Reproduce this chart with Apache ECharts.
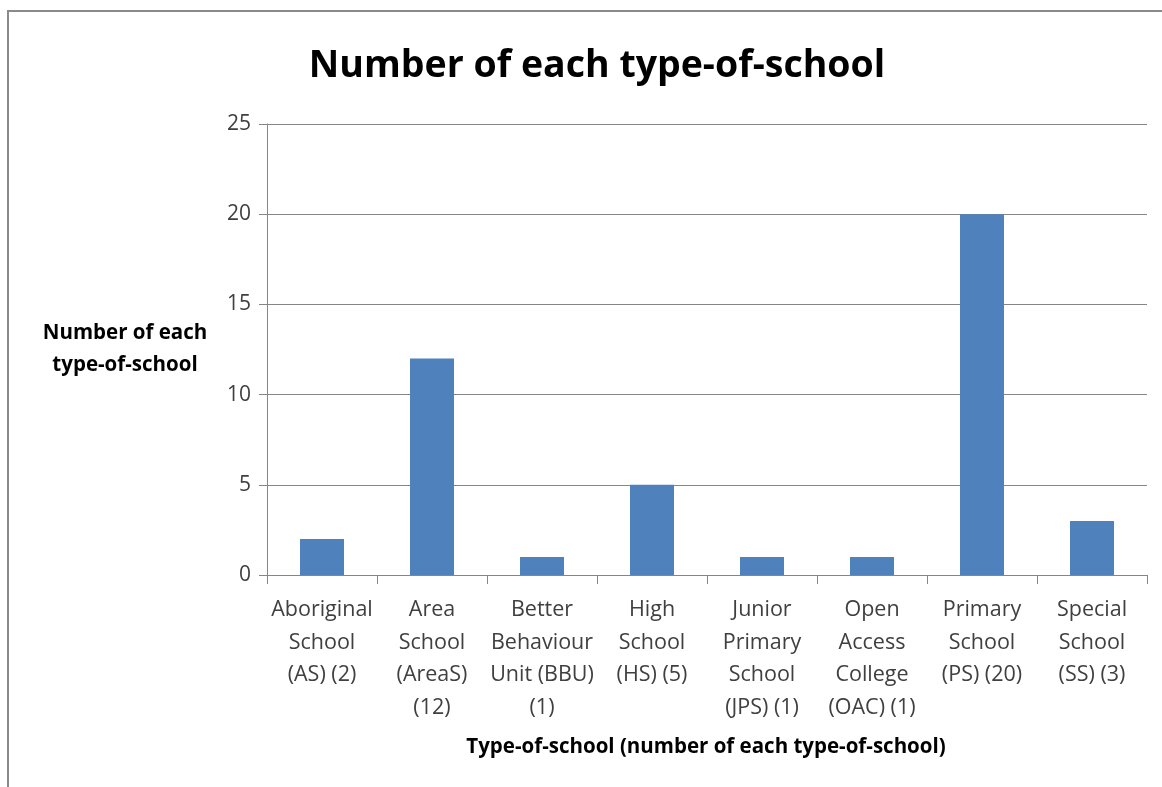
<!DOCTYPE html>
<html>
<head>
<meta charset="utf-8">
<script src="https://cdn.jsdelivr.net/npm/echarts@6/dist/echarts.min.js"></script>
<style>
  html, body { margin: 0; padding: 0; background: #fff; }
  #chart { width: 1162px; height: 787px; }
</style>
</head>
<body>
<div id="chart"></div>
<script>
// categories (with line breaks as in the picture)
var categories = [
    'Aboriginal\nSchool\n(AS) (2)',
    'Area\nSchool\n(AreaS)\n(12)',
    'Better\nBehaviour\nUnit (BBU)\n(1)',
    'High\nSchool\n(HS) (5)',
    'Junior\nPrimary\nSchool\n(JPS) (1)',
    'Open\nAccess\nCollege\n(OAC) (1)',
    'Primary\nSchool\n(PS) (20)',
    'Special\nSchool\n(SS) (3)'
];
var schoolCounts = [2, 12, 1, 5, 1, 1, 20, 3];
var yTicks = [0, 5, 10, 15, 20, 25];

var titleText = 'Number of each type-of-school';
var yName = 'Number of each\ntype-of-school';
var xName = 'Type-of-school (number of each type-of-school)';

var font = '"Open Sans", sans-serif';
var chart = echarts.init(document.getElementById('chart'));

var options = {
    animation: false,
    backgroundColor: '#fff',
    title: {
        text: titleText,
        left: 592,
        textAlign: 'center',
        top: 42,
        textStyle: { fontFamily: font, fontSize: 37.5, fontWeight: 'bold', color: '#000' }
    },
    grid: { left: 267, right: 15, top: 124, bottom: 212 },
    xAxis: {
        type: 'category',
        data: categories,
        axisLine: { lineStyle: { color: '#868686', width: 1 } },
        axisTick: { show: true, length: 9, lineStyle: { color: '#868686' } },
        axisLabel: {
            interval: 0,
            margin: 19,
            fontFamily: font,
            fontSize: 21.5,
            lineHeight: 32.5,
            color: '#404040'
        }
    },
    yAxis: {
        type: 'value',
        min: yTicks[0],
        max: yTicks[yTicks.length - 1],
        interval: 5,
        axisLine: { show: true, lineStyle: { color: '#868686', width: 1 } },
        axisTick: { show: true, length: 8, lineStyle: { color: '#868686' } },
        splitLine: { lineStyle: { color: '#868686', width: 1 } },
        axisLabel: { margin: 16, fontFamily: font, fontSize: 21, color: '#404040' }
    },
    series: [{
        type: 'bar',
        data: schoolCounts,
        barWidth: '40%',
        itemStyle: { color: '#4F81BD' }
    }],
    graphic: [
        {
            type: 'rect',
            shape: { x: 8, y: 11, width: 1200, height: 900 },
            style: { fill: null, stroke: '#8a8a8a', lineWidth: 2 },
            silent: true
        },
        {
            type: 'text',
            x: 125,
            y: 349,
            style: {
                text: yName,
                fontFamily: font,
                fontSize: 20.5,
                fontWeight: 'bold',
                lineHeight: 32,
                align: 'center',
                verticalAlign: 'middle',
                fill: '#000'
            }
        },
        {
            type: 'text',
            x: 706,
            y: 747,
            style: {
                text: xName,
                fontFamily: font,
                fontSize: 20.5,
                fontWeight: 'bold',
                align: 'center',
                verticalAlign: 'middle',
                fill: '#000'
            }
        }
    ]
};

chart.setOption(options);
window.addEventListener('resize', function () {
    chart.resize();
});
</script>
</body>
</html>
